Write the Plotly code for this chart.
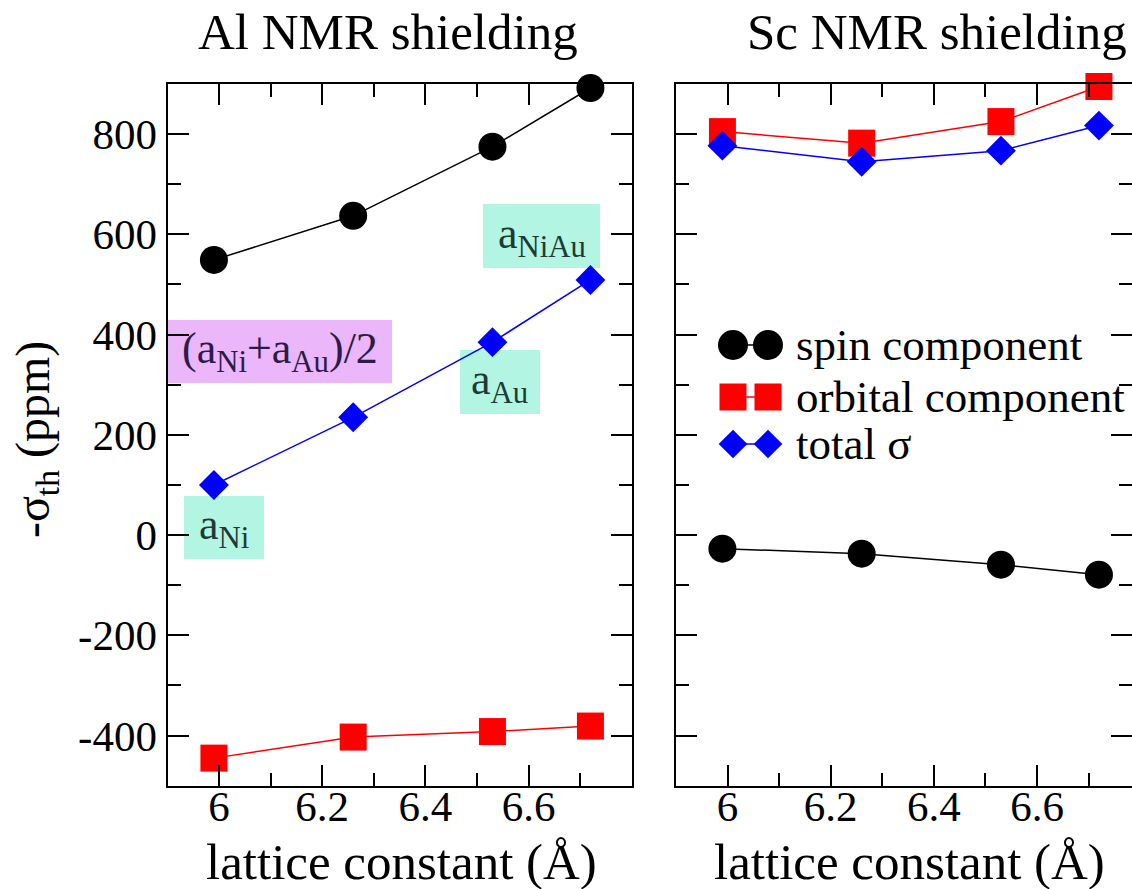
import plotly.graph_objects as go

# ---- data -----------------------------------------------------------------
lattice = [5.99, 6.26, 6.53, 6.72]          # lattice constant (Å)

al_spin = [549, 637, 775, 892]
al_orbital = [-445, -403, -392, -381]
al_total = [100, 235, 385, 509]

sc_spin = [-27, -37, -59, -79]
sc_orbital = [805, 782, 825, 895]
sc_total = [777, 745, 767, 817]

panel_titles = ["Al NMR shielding", "Sc NMR shielding"]
x_title = "lattice constant (Å)"
y_title = "-σ<sub>th</sub> (ppm)"
series_names = ["spin component", "orbital component", "total σ"]

x_tickvals = [6.0, 6.2, 6.4, 6.6]
x_ticktext = ["6", "6.2", "6.4", "6.6"]
x_minor = [6.1, 6.3, 6.5, 6.7]
y_tickvals = [-400, -200, 0, 200, 400, 600, 800]
y_ticktext = ["-400", "-200", "0", "200", "400", "600", "800"]
y_minor = [-300, -100, 100, 300, 500, 700]

lattice_labels = ["a<sub>Ni</sub>", "(a<sub>Ni</sub>+a<sub>Au</sub>)/2",
                  "a<sub>Au</sub>", "a<sub>NiAu</sub>"]

# ---- styling ----------------------------------------------------------------
W, H = 1132, 889
FONT = "Liberation Serif, Times New Roman, DejaVu Serif, serif"
COLORS = ["black", "#ff0000", "#0000ff"]
SYMBOLS = ["circle", "square", "diamond"]
SIZES = [28, 27, 23]
LEGEND_SIZES = [30, 27, 22]
TEAL = "#b2f5e2"
PINK = "#ebb6fa"


def px_x(p):
    return p / W


def px_y(p):
    return 1 - p / H


fig = go.Figure()

panels = [
    ("x", "y", [al_spin, al_orbital, al_total]),
    ("x2", "y2", [sc_spin, sc_orbital, sc_total]),
]
for xa, ya, series in panels:
    for k, vals in enumerate(series):
        fig.add_trace(go.Scatter(
            x=lattice, y=vals, xaxis=xa, yaxis=ya, name=series_names[k],
            mode="lines+markers", cliponaxis=False, showlegend=False,
            line=dict(color=COLORS[k], width=1.5),
            marker=dict(symbol=SYMBOLS[k], size=SIZES[k], color=COLORS[k]),
        ))

# legend glyphs (two markers joined by a line) on a full-page helper axis
legend_rows = [345, 397, 444]
for k, name in enumerate(series_names):
    fig.add_trace(go.Scatter(
        x=[733, 768], y=[legend_rows[k]] * 2, xaxis="x3", yaxis="y3",
        mode="lines+markers", showlegend=False, hoverinfo="skip",
        line=dict(color=COLORS[k], width=1.5),
        marker=dict(symbol=SYMBOLS[k], size=LEGEND_SIZES[k], color=COLORS[k]),
    ))

tick_common = dict(
    showline=True, linecolor="black", linewidth=2, mirror="allticks",
    ticks="inside", ticklen=21, tickwidth=2, tickcolor="black",
    showgrid=False, zeroline=False, automargin=False,
    tickfont=dict(family=FONT, size=43, color="black"),
)


def x_axis(domain, rng):
    return dict(tick_common, domain=domain, range=rng, tickmode="array",
                tickvals=x_tickvals, ticktext=x_ticktext,
                ticklabelstandoff=-18,
                minor=dict(tickmode="array", tickvals=x_minor, ticks="inside",
                           ticklen=13, tickwidth=2, tickcolor="black",
                           showgrid=False))


def y_axis(domain, labels):
    return dict(tick_common, domain=domain, range=[-500, 900], tickmode="array",
                tickvals=y_tickvals, ticktext=y_ticktext, showticklabels=labels,
                minor=dict(tickmode="array", tickvals=y_minor, ticks="inside",
                           ticklen=13, tickwidth=2, tickcolor="black",
                           showgrid=False))


left_x = [167.5, 631.7]
px_per_unit = (left_x[1] - left_x[0]) / 0.9
right_x0 = 676
right_end = 5.9 + (W - right_x0) / px_per_unit
y_dom = [px_y(785.7), px_y(84)]

fig.update_layout(
    width=W, height=H,
    margin=dict(l=0, r=0, t=0, b=0),
    paper_bgcolor="white", plot_bgcolor="rgba(0,0,0,0)",
    showlegend=False,
    font=dict(family=FONT, color="black"),
    xaxis=x_axis([px_x(left_x[0]), px_x(left_x[1])], [5.9, 6.8]),
    yaxis=dict(y_axis(y_dom, True), anchor="x"),
    xaxis2=dict(x_axis([px_x(right_x0), 1.0], [5.9, right_end]), anchor="y2"),
    yaxis2=dict(y_axis(y_dom, False), anchor="x2"),
    xaxis3=dict(domain=[0, 1], range=[0, W], visible=False, anchor="y3"),
    yaxis3=dict(domain=[0, 1], range=[H, 0], visible=False, anchor="x3"),
)

annotations = []


def text(x, y, s, size, **kw):
    annotations.append(dict(
        x=px_x(x), y=px_y(y), xref="paper", yref="paper", text=s,
        showarrow=False, font=dict(family=FONT, size=size,
                                   color=kw.pop("color", "black")),
        xanchor=kw.pop("xanchor", "center"), yanchor="middle", **kw))


# panel titles and axis titles
text(387.5, 32, panel_titles[0], 51)
text(936.5, 32, panel_titles[1], 51)
text(401.5, 862, x_title, 51)
text(909, 862, x_title, 51)
text(36, 440, y_title, 48, textangle=-90)

# legend labels
for k, name in enumerate(series_names):
    text(794, legend_rows[k], name, 45, xanchor="left")

# lattice-constant tags (background boxes under the data)
boxes = [
    (184, 264, 496, 559, TEAL, "#1d3b36"),
    (167, 392, 320, 383, PINK, "#2e1a48"),
    (460, 540, 350, 414, TEAL, "#1d3b36"),
    (483, 600, 204, 268, TEAL, "#1d3b36"),
]
shapes = []
for (x0, x1, y0, y1, fill, tcol), label in zip(boxes, lattice_labels):
    shapes.append(dict(type="rect", xref="paper", yref="paper",
                       x0=px_x(x0), x1=px_x(x1), y0=px_y(y1), y1=px_y(y0),
                       fillcolor=fill, line=dict(width=0), layer="below"))
    text((x0 + x1) / 2, (y0 + y1) / 2, label, 44, color=tcol)

fig.update_layout(annotations=annotations, shapes=shapes)

fig.write_html("out.html", config={"displayModeBar": False})
